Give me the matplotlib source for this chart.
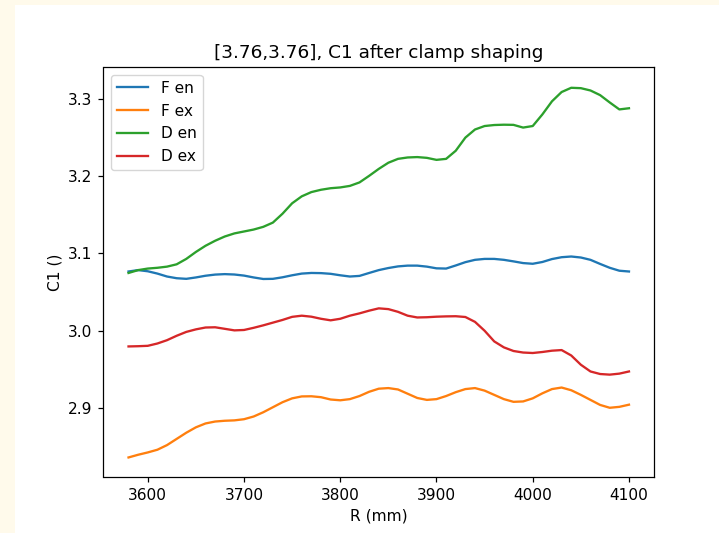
import numpy as np
import matplotlib
matplotlib.use("Agg")
import matplotlib.pyplot as plt
from matplotlib.patches import Rectangle

# Radius grid (mm), 10 mm step
r_mm = list(range(3580, 4101, 10))

f_en = [3.0767, 3.0785, 3.0770, 3.0740, 3.0702, 3.0680, 3.0672, 3.0690, 3.0712, 3.0727,
        3.0733, 3.0728, 3.0714, 3.0690, 3.0670, 3.0672, 3.0692, 3.0718, 3.0740, 3.0748,
        3.0746, 3.0737, 3.0718, 3.0702, 3.0710, 3.0748, 3.0785, 3.0812, 3.0833, 3.0843,
        3.0843, 3.0830, 3.0808, 3.0805, 3.0845, 3.0888, 3.0918, 3.0930, 3.0930, 3.0918,
        3.0898, 3.0876, 3.0867, 3.0890, 3.0928, 3.0952, 3.0961, 3.0948, 3.0918, 3.0865,
        3.0815, 3.0777, 3.0767]

f_ex = [2.8360, 2.8395, 2.8425, 2.8460, 2.8520, 2.8600, 2.8680, 2.8750, 2.8800, 2.8825,
        2.8835, 2.8840, 2.8855, 2.8890, 2.8945, 2.9010, 2.9075, 2.9125, 2.9150, 2.9152,
        2.9140, 2.9110, 2.9100, 2.9115, 2.9155, 2.9210, 2.9250, 2.9258, 2.9240, 2.9185,
        2.9130, 2.9105, 2.9115, 2.9155, 2.9205, 2.9245, 2.9258, 2.9225, 2.9170, 2.9115,
        2.9080, 2.9085, 2.9125, 2.9190, 2.9245, 2.9265, 2.9230, 2.9170, 2.9105, 2.9040,
        2.9003, 2.9015, 2.9043]

d_en = [3.0748, 3.0785, 3.0805, 3.0815, 3.0830, 3.0860, 3.0930, 3.1020, 3.1100, 3.1165,
        3.1220, 3.1260, 3.1285, 3.1310, 3.1345, 3.1400, 3.1515, 3.1650, 3.1740, 3.1795,
        3.1825, 3.1845, 3.1855, 3.1875, 3.1920, 3.2005, 3.2095, 3.2175, 3.2225, 3.2243,
        3.2248, 3.2238, 3.2212, 3.2225, 3.2330, 3.2500, 3.2605, 3.2650, 3.2663, 3.2667,
        3.2665, 3.2630, 3.2650, 3.2800, 3.2970, 3.3090, 3.3145, 3.3140, 3.3110, 3.3050,
        3.2955, 3.2865, 3.2880]

d_ex = [2.9797, 2.9800, 2.9805, 2.9835, 2.9878, 2.9935, 2.9985, 3.0018, 3.0042, 3.0045,
        3.0025, 3.0005, 3.0010, 3.0038, 3.0070, 3.0105, 3.0140, 3.0180, 3.0195, 3.0182,
        3.0155, 3.0135, 3.0155, 3.0195, 3.0225, 3.0260, 3.0290, 3.0280, 3.0245, 3.0195,
        3.0172, 3.0175, 3.0182, 3.0186, 3.0188, 3.0178, 3.0115, 3.0000, 2.9862, 2.9785,
        2.9738, 2.9718, 2.9712, 2.9725, 2.9742, 2.9750, 2.9680, 2.9560, 2.9473, 2.9440,
        2.9432, 2.9445, 2.9473]

series = [("F en", f_en), ("F ex", f_ex), ("D en", d_en), ("D ex", d_ex)]

s = 1.11  # display scale
plt.rcParams.update({
    "font.family": "DejaVu Sans",
    "font.size": 10 * s,
    "axes.linewidth": 0.8 * s,
    "lines.linewidth": 1.5 * s,
    "lines.solid_joinstyle": "round",
    "xtick.major.size": 3.5 * s,
    "ytick.major.size": 3.5 * s,
    "xtick.major.width": 0.8 * s,
    "ytick.major.width": 0.8 * s,
    "xtick.major.pad": 3.5 * s,
    "ytick.major.pad": 3.5 * s,
    "axes.titlesize": 12 * s,
    "axes.titlepad": 6 * s,
    "axes.labelpad": 4 * s,
    "legend.fontsize": 10 * s,
})

W, H = 719, 533
fig = plt.figure(figsize=(W / 100, H / 100), dpi=100, facecolor="#fffaeb")
fig.patches.append(Rectangle((15 / W, 0), 1, (H - 5) / H, transform=fig.transFigure,
                             facecolor="white", edgecolor="none", zorder=-10))

ax = fig.add_axes([103.5 / W, (H - 477) / H, 550.5 / W, 410 / H])
for name, vals in series:
    ax.plot(r_mm, vals, label=name)

ax.set_xlim(3554, 4126)
ax.set_ylim(2.8107, 3.3414)
ax.set_xticks([3600, 3700, 3800, 3900, 4000, 4100])
ax.set_yticks([2.9, 3.0, 3.1, 3.2, 3.3])
ax.set_title("[3.76,3.76], C1 after clamp shaping")
ax.set_xlabel("R (mm)")
ax.set_ylabel("C1 ()")
ax.legend(loc="upper left")

fig.savefig("out.png", dpi=100, facecolor=fig.get_facecolor())
